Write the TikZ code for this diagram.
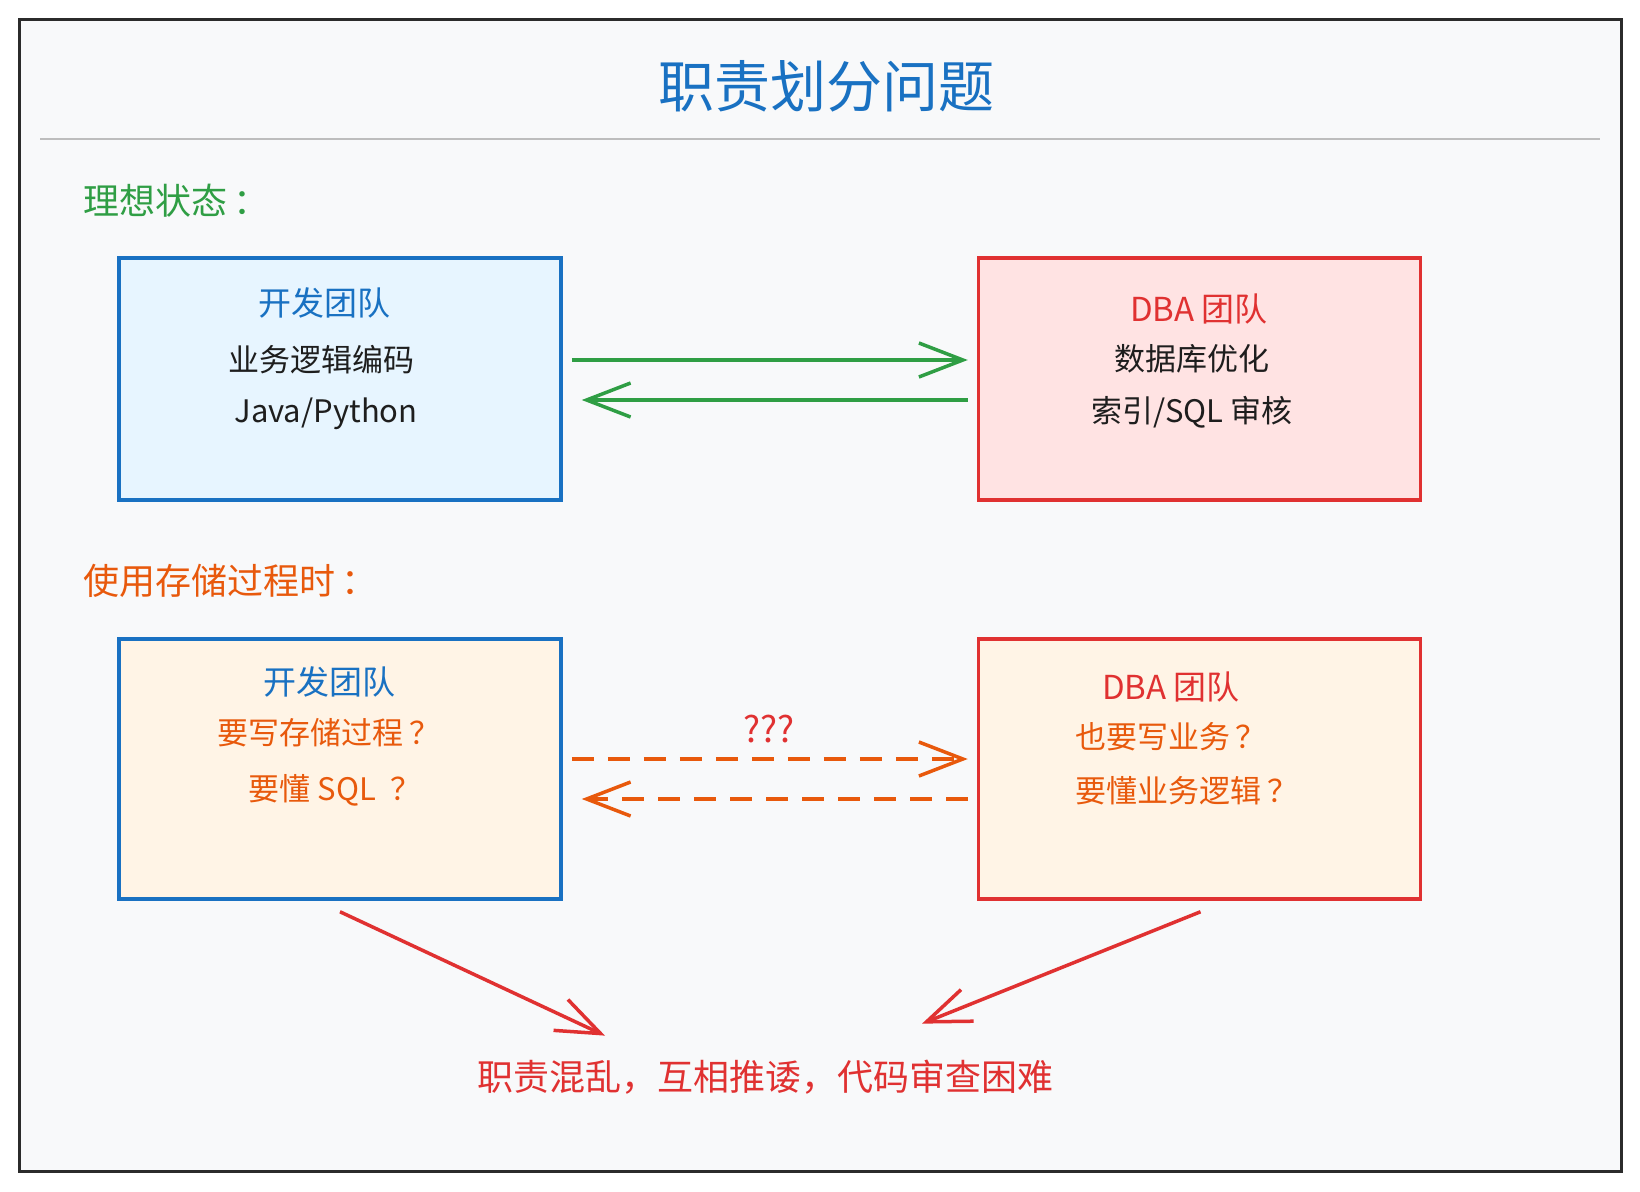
\documentclass[tikz,border=0pt]{standalone}
\usepackage{fontspec}
\setmainfont{Noto Sans CJK SC}
\usetikzlibrary{arrows.meta,positioning,calc}

\definecolor{frameedge}{HTML}{2B2B2B}
\definecolor{paper}{HTML}{F8F9FA}
\definecolor{rulegray}{HTML}{BDBDBD}
\definecolor{titleblue}{HTML}{1971C2}
\definecolor{okgreen}{HTML}{2F9E44}
\definecolor{warnorange}{HTML}{E8590C}
\definecolor{dbared}{HTML}{E03131}
\definecolor{inkdark}{HTML}{1E1E1E}
\definecolor{devfill}{HTML}{E7F5FF}
\definecolor{dbafill}{HTML}{FFE3E3}
\definecolor{spfill}{HTML}{FFF4E6}

\begin{document}
\begin{tikzpicture}[x=1pt,y=-1pt,
team/.style={
draw,
rectangle,
line width=3.5pt,
minimum width=442pt,
minimum height=242pt},
line/.style={font=\fontsize{31}{34}\selectfont, inner sep=0pt},
head/.style={line, font=\fontsize{33}{36}\selectfont},
section/.style={anchor=west, font=\fontsize{36}{40}\selectfont},
flow/.style={line width=3.5pt, -{Straight Barb[length=44pt,width=34pt]}}]

% paper and frame
\fill[white] (0,0) rectangle (1640,1191);
\draw[frameedge, line width=3pt, fill=paper] (19,19) rectangle (1621,1171);
\node[titleblue, font=\fontsize{56}{62}\selectfont] (title) at (826,86) {职责划分问题};
\draw[rulegray, line width=2pt] (40,139) -- (1600,139);

%ideal case
\node[section, okgreen] (ideal) at (80,201) {理想状态\,：};
\node[team, draw=titleblue, fill=devfill] (dev1) at (340,379) {};
\node[team, draw=dbared, fill=dbafill] (dba1) at (1199.5,379) {};

\node[head, titleblue] (dev1a) at (324,303) {开发团队};
\node[line, inkdark] (dev1b) at (321,360) {业务逻辑编码};
\node[line, inkdark] (dev1c) at (326,414) {Java/Python};

\node[head, dbared] (dba1a) at (1199,309) {DBA 团队};
\node[line, inkdark] (dba1b) at (1192,359) {数据库优化};
\node[line, inkdark] (dba1c) at (1192,412) {索引/SQL 审核};

\draw[flow, okgreen] ([xshift=9pt,yshift=19pt]dev1.east) -- ([xshift=-9pt,yshift=19pt]dba1.west);
\draw[flow, okgreen] ([xshift=-9pt,yshift=-21pt]dba1.west) -- ([xshift=19pt,yshift=-21pt]dev1.east);

%with stored procedures
\node[section, warnorange] (sp) at (80,581) {使用存储过程时\,：};
\node[team, draw=titleblue, fill=spfill, minimum height=260pt] (dev2) at (340,769) {};
\node[team, draw=dbared, fill=spfill, minimum height=260pt] (dba2) at (1199.5,769) {};

\node[head, titleblue] (dev2a) at (329,682) {开发团队};
\node[line, warnorange] (dev2b) at (329,733) {要写存储过程\,？};
\node[line, warnorange] (dev2c) at (335,790) {要懂 SQL \ ？};

\node[head, dbared] (dba2a) at (1171,687) {DBA 团队};
\node[line, warnorange] (dba2b) at (1171,737) {也要写业务\,？};
\node[line, warnorange] (dba2c) at (1187,791) {要懂业务逻辑\,？};

\draw[flow, warnorange, dash pattern=on 22pt off 14pt] ([xshift=9pt,yshift=10pt]dev2.east) -- ([xshift=-9pt,yshift=10pt]dba2.west);
\draw[flow, warnorange, dash pattern=on 22pt off 14pt] ([xshift=-9pt,yshift=-30pt]dba2.west) -- ([xshift=19pt,yshift=-30pt]dev2.east);
\node[line, dbared, font=\fontsize{36}{40}\selectfont] (ask) at (769,729) {???};

% outcome
\node[line, dbared, font=\fontsize{36}{40}\selectfont] (result) at (765,1077) {职责混乱，互相推诿，代码审查困难};
\draw[flow, dbared] ([yshift=-11pt]dev2.south) -- ([xshift=-160pt,yshift=24pt]result.north);
\draw[flow, dbared] ([xshift=1pt,yshift=-11pt]dba2.south) -- ([xshift=157pt,yshift=36pt]result.north);
\end{tikzpicture}
\end{document}
